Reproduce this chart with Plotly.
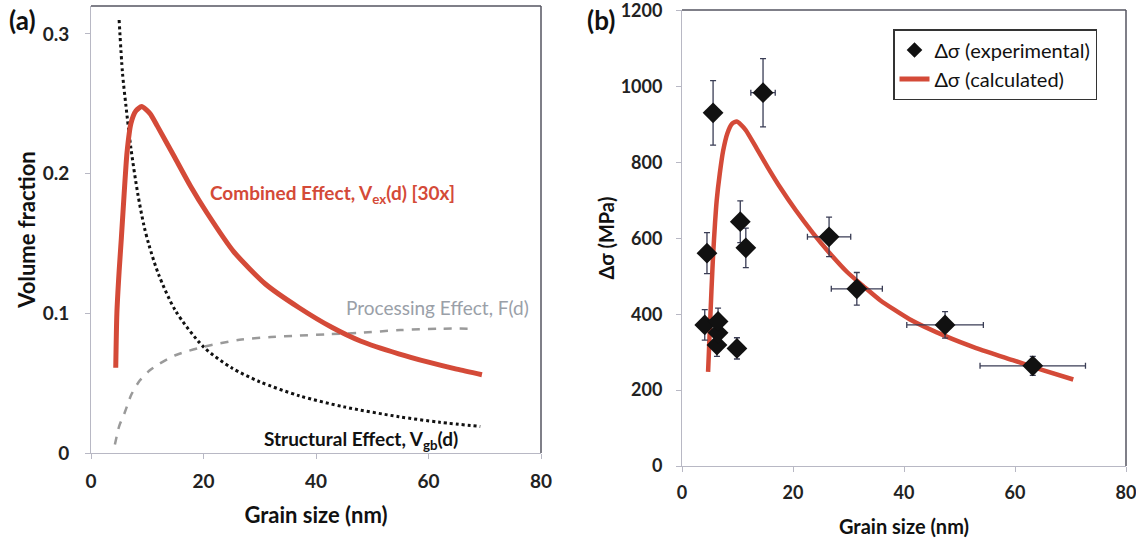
import plotly.graph_objects as go

# ---------------- Panel (a) data ----------------
d_combined = [4.4, 4.6, 5.0, 5.4, 5.9, 6.4, 7.1, 8.0, 9.0, 10.5, 11.8, 14.7, 17.7, 20.6, 25.4, 31, 37, 42.8, 48, 54.7, 60, 65, 69.5]
v_combined = [0.061, 0.100, 0.130, 0.154, 0.186, 0.215, 0.236, 0.245, 0.248, 0.243, 0.234, 0.213, 0.191, 0.172, 0.144, 0.121, 0.104, 0.090, 0.080, 0.071, 0.065, 0.060, 0.056]

d_struct = [5.0, 5.6, 6.2, 7.1, 8.3, 9.4, 10.3, 12, 15, 20, 25, 30, 37, 45, 54.7, 62, 69.2]
v_struct = [0.310, 0.272, 0.249, 0.218, 0.186, 0.163, 0.149, 0.128, 0.102, 0.076, 0.061, 0.051, 0.041, 0.033, 0.026, 0.022, 0.019]

d_proc = [4.25, 5.0, 6.0, 7.2, 8.7, 10.4, 12.2, 15, 20, 26.4, 32, 37, 42, 47.6, 55, 62, 68]
v_proc = [0.006, 0.019, 0.029, 0.042, 0.052, 0.059, 0.064, 0.070, 0.076, 0.081, 0.083, 0.084, 0.085, 0.086, 0.088, 0.089, 0.089]

# ---------------- Panel (b) data ----------------
exp_d = [4.1, 4.5, 5.6, 6.3, 6.5, 6.5, 9.9, 10.5, 11.5, 14.6, 26.5, 31.5, 47.4, 63.2]
exp_s = [372, 561, 931, 319, 351, 381, 310, 644, 575, 984, 604, 467, 372, 264]
err_s = [40, 54, 85, 30, 30, 35, 28, 55, 52, 90, 52, 43, 35, 25]
err_d = [0.6, 0.6, 0.6, 0.6, 0.6, 0.6, 0.6, 0.6, 0.6, 2.2, 3.9, 4.6, 6.9, 9.5]

calc_d = [4.7, 5.0, 5.3, 5.6, 5.95, 6.25, 6.8, 7.4, 8.2, 9.0, 9.85, 10.6, 11.5, 13.5, 15.5, 17.7, 20.5, 23.6, 26.5, 29.7, 33, 35.7, 41, 47.7, 53, 59.6, 65, 70.5]
calc_s = [248, 355, 460, 555, 640, 700, 770, 830, 878, 902, 908, 900, 885, 836, 786, 734, 674, 614, 563, 512, 470, 437, 387, 341, 311, 279, 253, 228]

x_ticks = [0, 20, 40, 60, 80]
ya_ticks = [0, 0.1, 0.2, 0.3]
ya_labels = ["0", "0.1", "0.2", "0.3"]
yb_ticks = [0, 200, 400, 600, 800, 1000, 1200]

RED = "#d44a38"
FONT = "Lato"
W, H = 1136, 541

fig = go.Figure()

# panel (a)
fig.add_trace(go.Scatter(x=d_struct, y=v_struct, mode="lines", line=dict(color="#111111", width=3, dash="dot", shape="spline", smoothing=0.8),
                         showlegend=False, xaxis="x", yaxis="y"))
fig.add_trace(go.Scatter(x=d_proc, y=v_proc, mode="lines", line=dict(color="#9a9a9a", width=2.5, dash="8px,8px", shape="spline", smoothing=0.8),
                         showlegend=False, xaxis="x", yaxis="y"))
fig.add_trace(go.Scatter(x=d_combined, y=v_combined, mode="lines", line=dict(color=RED, width=5, shape="spline", smoothing=0.6),
                         showlegend=False, xaxis="x", yaxis="y"))

# panel (b)
fig.add_trace(go.Scatter(x=calc_d, y=calc_s, mode="lines", name="Δσ (calculated)",
                         line=dict(color=RED, width=4.5, shape="spline", smoothing=0.6),
                         xaxis="x2", yaxis="y2", legendrank=2))
fig.add_trace(go.Scatter(x=exp_d, y=exp_s, mode="markers", name="Δσ (experimental)",
                         marker=dict(symbol="diamond", size=16, color="#111111"),
                         error_y=dict(type="data", array=err_s, color="#3a3d55", thickness=1.3, width=3),
                         error_x=dict(type="data", array=err_d, color="#3a3d55", thickness=1.3, width=3),
                         xaxis="x2", yaxis="y2", legendrank=1))

# domains from pixel positions
ax_a = (91 / W, 541 / W)
ay_a = (1 - 453 / H, 1 - 6 / H)
ax_b = (682 / W, 1126 / W)
ay_b = (1 - 466 / H, 1 - 10 / H)


def axis_style(tsize):
    return dict(showgrid=False, zeroline=False, showline=True, linecolor="#b8b8c4", linewidth=1,
                ticks="outside", ticklen=5, tickcolor="#b8b8c4", automargin=False,
                ticklabeloverflow="allow",
                tickfont=dict(family=FONT, size=tsize, color="#222222", weight="bold"))


fig.update_layout(
    width=W, height=H,
    margin=dict(l=0, r=0, t=0, b=0),
    paper_bgcolor="white", plot_bgcolor="white",
    xaxis=dict(domain=list(ax_a), range=[0, 80], tickvals=x_ticks, anchor="y",
               ticklabelstandoff=6,
               title=dict(text="Grain size (nm)", font=dict(family=FONT, size=22, color="#111", weight="bold"), standoff=16),
               **axis_style(19)),
    yaxis=dict(domain=list(ay_a), range=[0, 0.32], tickvals=ya_ticks, ticktext=ya_labels, anchor="x",
               ticklabelstandoff=12,
               title=dict(text="Volume fraction", font=dict(family=FONT, size=22, color="#111", weight="bold"), standoff=0),
               **axis_style(19)),
    xaxis2=dict(domain=list(ax_b), range=[0, 80], tickvals=x_ticks, anchor="y2",
                ticklabelstandoff=5,
                title=dict(text="Grain size (nm)", font=dict(family=FONT, size=20, color="#111", weight="bold"), standoff=18),
                **axis_style(18)),
    yaxis2=dict(domain=list(ay_b), range=[0, 1202], tickvals=yb_ticks, anchor="x2",
                ticklabelstandoff=10,
                title=dict(text="Δσ (MPa)", font=dict(family=FONT, size=20, color="#111", weight="bold"), standoff=0),
                **axis_style(18)),
    legend=dict(x=893 / W, y=1 - 29 / H, xanchor="left", yanchor="top",
                bordercolor="#333333", borderwidth=1.5, bgcolor="white",
                font=dict(family=FONT, size=20, color="#111111"),
                itemsizing="constant", itemwidth=30, tracegroupgap=0, entrywidth=215),
)

# frame: top and right borders in dark gray
for xr, yr in (("x", "y"), ("x2", "y2")):
    fig.add_shape(type="line", xref=f"{xr} domain", yref=f"{yr} domain", x0=0, x1=1, y0=1, y1=1,
                  line=dict(color="#555560", width=1.5))
    fig.add_shape(type="line", xref=f"{xr} domain", yref=f"{yr} domain", x0=1, x1=1, y0=0, y1=1,
                  line=dict(color="#555560", width=1.5))

# panel letters
fig.add_annotation(text="(a)", x=7 / W, y=1 - 20 / H, xref="paper", yref="paper", xanchor="left", yanchor="middle",
                   showarrow=False, font=dict(family=FONT, size=26, color="#111", weight="bold"))
fig.add_annotation(text="(b)", x=585 / W, y=1 - 20 / H, xref="paper", yref="paper", xanchor="left", yanchor="middle",
                   showarrow=False, font=dict(family=FONT, size=26, color="#111", weight="bold"))

# curve labels in panel (a)
fig.add_annotation(text="Combined Effect, V<sub>ex</sub>(d) [30x]", x=208 / W, y=1 - 194 / H, xref="paper", yref="paper",
                   xanchor="left", yanchor="middle", showarrow=False,
                   font=dict(family=FONT, size=19, color=RED, weight="bold"))
fig.add_annotation(text="Processing Effect, F(d)", x=344 / W, y=1 - 307 / H, xref="paper", yref="paper",
                   xanchor="left", yanchor="middle", showarrow=False,
                   font=dict(family=FONT, size=19, color="#9aa0a8"))
fig.add_annotation(text="Structural Effect, V<sub>gb</sub>(d)", x=262 / W, y=1 - 440 / H, xref="paper", yref="paper",
                   xanchor="left", yanchor="middle", showarrow=False,
                   font=dict(family=FONT, size=19, color="#111", weight="bold"))

fig.write_html("out.html")
